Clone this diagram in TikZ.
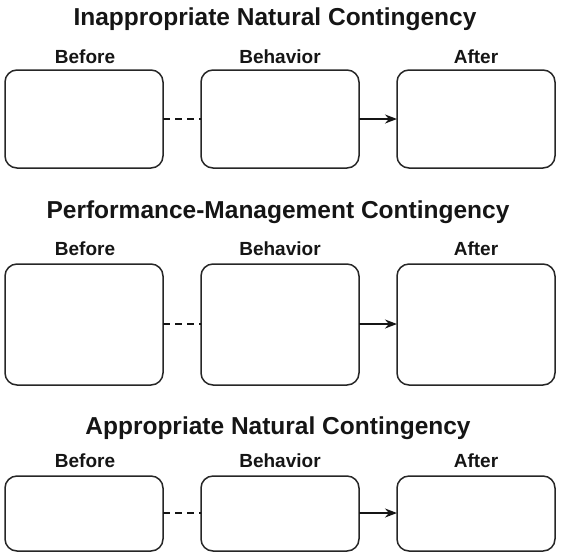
\documentclass[tikz,border=0pt]{standalone}
\usepackage{fontspec}
\setmainfont{Liberation Sans}
\usetikzlibrary{arrows.meta}
\definecolor{ink}{HTML}{151515}
\definecolor{edge}{HTML}{262626}
\tikzset{
  cbox/.style={draw=edge, line width=1.5pt, rounded corners=12pt, fill=white},
  ttl/.style={anchor=base, font=\bfseries\fontsize{24.5}{28}\selectfont, text=ink, inner sep=0pt},
  lbl/.style={anchor=base, font=\bfseries\fontsize{19}{22}\selectfont, text=ink, inner sep=0pt},
  dashlink/.style={draw=ink, line width=1.5pt, dash pattern=on 7pt off 5pt},
  arrlink/.style={draw=ink, line width=1.5pt, -{Stealth[length=12pt,width=9pt]}}
}
\begin{document}
\begin{tikzpicture}[x=1pt,y=-1pt]
\useasboundingbox (0,0) rectangle (567,558);
% Row 1
\node[ttl] (t1) at (275,25) {Inappropriate Natural Contingency};
\node[lbl] (l1a) at (85,63) {Before};
\node[lbl] (l1b) at (280,63) {Behavior};
\node[lbl] (l1c) at (476,63) {After};
\path[cbox] (5,70) rectangle (163,168);
\path[cbox] (201,70) rectangle (359,168);
\path[cbox] (397,70) rectangle (555,168);
\coordinate (a1) at (163,119); \coordinate (b1) at (201,119);
\coordinate (c1) at (359,119); \coordinate (d1) at (397,119);
\draw[dashlink] (a1) -- (b1);
\draw[arrlink] (c1) -- (d1);
% Row 2
\node[ttl] (t2) at (278,218) {Performance-Management Contingency};
\node[lbl] (l2a) at (85,255) {Before};
\node[lbl] (l2b) at (280,255) {Behavior};
\node[lbl] (l2c) at (476,255) {After};
\path[cbox] (5,264) rectangle (163,385);
\path[cbox] (201,264) rectangle (359,385);
\path[cbox] (397,264) rectangle (555,385);
\coordinate (a2) at (163,324); \coordinate (b2) at (201,324);
\coordinate (c2) at (359,324); \coordinate (d2) at (397,324);
\draw[dashlink] (a2) -- (b2);
\draw[arrlink] (c2) -- (d2);
% Row 3
\node[ttl] (t3) at (278,434) {Appropriate Natural Contingency};
\node[lbl] (l3a) at (85,467) {Before};
\node[lbl] (l3b) at (280,467) {Behavior};
\node[lbl] (l3c) at (476,467) {After};
\path[cbox] (5,476) rectangle (163,551);
\path[cbox] (201,476) rectangle (359,551);
\path[cbox] (397,476) rectangle (555,551);
\coordinate (a3) at (163,513); \coordinate (b3) at (201,513);
\coordinate (c3) at (359,513); \coordinate (d3) at (397,513);
\draw[dashlink] (a3) -- (b3);
\draw[arrlink] (c3) -- (d3);
\end{tikzpicture}
\end{document}
